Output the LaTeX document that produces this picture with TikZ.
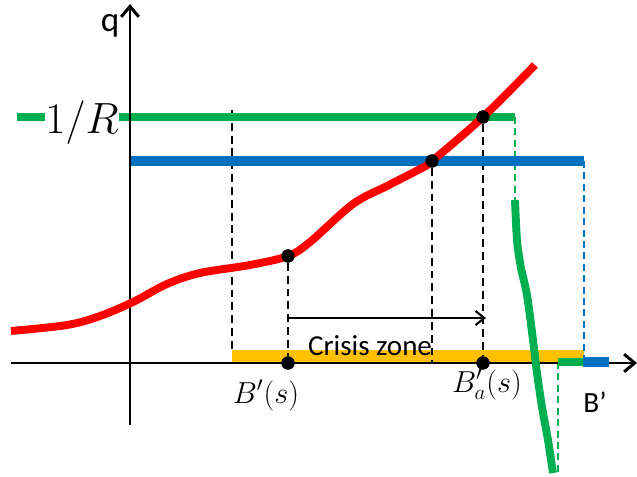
\documentclass[tikz,border=0pt]{standalone}
\usepackage{fontspec}
\newfontfamily\calib{Carlito}
\usetikzlibrary{arrows.meta}
\definecolor{offred}{HTML}{FF0000}
\definecolor{offgreen}{HTML}{00B050}
\definecolor{offblue}{HTML}{0070C0}
\definecolor{offyellow}{HTML}{FFC000}
\tikzset{
  axisline/.style={line width=1.7pt,-{Straight Barb[length=6pt,width=10pt]}},
  redc/.style={draw=offred,line width=4.5pt},
  greenc/.style={draw=offgreen,line width=4.5pt},
  bluec/.style={draw=offblue,line width=6pt},
  yellowc/.style={draw=offyellow,line width=6.8pt},
  bdash/.style={line width=1.1pt,dash pattern=on 4.5pt off 2.8pt},
  cdash/.style={line width=0.8pt,dash pattern=on 4pt off 2.5pt},
  dotnode/.style={circle,fill=black,inner sep=0pt,minimum size=7.5pt},
  mlabel/.style={font=\fontsize{16.5}{18}\selectfont,inner sep=0pt,anchor=base},
  slabel/.style={font=\calib\fontsize{16.5}{18}\selectfont,inner sep=0pt,anchor=base},
}
\begin{document}
\begin{tikzpicture}[x=0.02cm,y=-0.02cm]
\useasboundingbox (0,0) rectangle (637,477);
% coordinates
\coordinate (xs) at (11,363);
\coordinate (xe) at (637,363);
\coordinate (ys) at (130,425);
\coordinate (ye) at (130,4);
\coordinate (gL) at (17,117);
\coordinate (gR) at (515,117);
\coordinate (bL) at (130,161);
\coordinate (bR) at (584,161);
\coordinate (yL) at (232,356);
\coordinate (yR) at (584,356);
\coordinate (d1t) at (232,110);
\coordinate (d1b) at (232,352);
\coordinate (gdb) at (515,200);
\coordinate (bdb) at (584,357);
\coordinate (gsL) at (558,362);
\coordinate (gsR) at (583,362);
\coordinate (bsR) at (609,362);
\coordinate (gdd) at (558,475);
\coordinate (arS) at (288,318);
\coordinate (arE) at (486,318);
% yellow crisis bar
\draw[yellowc] (yL) -- (yR);
% dots
\node[dotnode] (P1) at (288,256) {};
\node[dotnode] (P2) at (432,161) {};
\node[dotnode] (P3) at (483,117) {};
\node[dotnode] (Q1) at (288,363) {};
\node[dotnode] (Q2) at (483,363) {};
\coordinate (P2b) at (432,363);
% dashed verticals
\draw[bdash] (d1t) -- (d1b);
\draw[bdash] (P1) -- (Q1);
\draw[bdash] (P2) -- (P2b);
\draw[bdash] (P3) -- (Q2);
\draw[cdash,draw=offgreen] (gR) -- (gdb);
\draw[cdash,draw=offblue] (bR) -- (bdb);
\draw[cdash,draw=offgreen] (gsL) -- (gdd);
% 1/R label and green line
\node[font=\fontsize{23}{26}\selectfont,inner sep=0pt,anchor=base] (oneR) at (82,133) {$1/R$};
\draw[greenc] (gL) -- (oneR.west |- gL);
\draw[greenc] (oneR.east |- gR) -- (gR);
% blue line
\draw[bluec] (bL) -- (bR);
% axes
\draw[axisline] (xs) -- (xe);
\draw[axisline] (ys) -- (ye);
% red curve
\draw[redc] plot[smooth,tension=0.55] coordinates {(11,331) (67,325) (100,316) (133,302) (167,284) (200,273) (250,265) (288,256) (310,242) (353,204) (387,186) (420,169) (432,161) (483,117) (535,65)};
% redraw dots over curve
\foreach \p in {P1,P2,P3,Q1,Q2} \fill (\p) circle (3.75pt);
% green curve
\draw[greenc] plot[smooth,tension=0.5] coordinates {(515,200) (517,240) (521,268) (527,295) (533,340) (537,373) (542,407) (548,440) (553,473)};
% short segments on the axis
\draw[draw=offgreen,line width=4.5pt] (gsL) -- (gsR);
\draw[draw=offblue,line width=5.7pt] (gsR) -- (bsR);
% crisis arrow
\draw[line width=1.2pt,-{Straight Barb[length=5pt,width=8pt]}] (arS) -- (arE);
% labels
\node[slabel] (lcz) at (370,355) {Crisis zone};
\node[mlabel] (lBs) at (266,403) {$B'(s)$};
\node[mlabel] (lBas) at (487,392) {$B'_a(s)$};
\node[font=\calib\fontsize{20}{22}\selectfont,inner sep=0pt,anchor=base] (lq) at (110,31) {q};
\node[font=\calib\fontsize{16.7}{18}\selectfont,inner sep=0pt,anchor=base] (lB) at (595,412) {B’};
\end{tikzpicture}
\end{document}
